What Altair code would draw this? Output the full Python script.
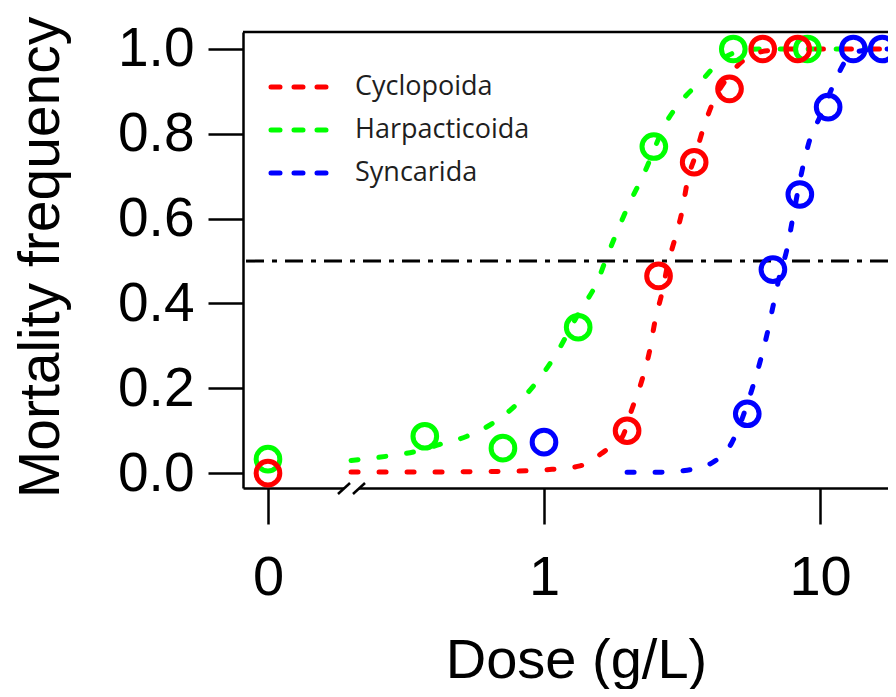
import altair as alt
import pandas as pd

# ---------------- data ----------------
series = ["Cyclopoida", "Harpacticoida", "Syncarida"]
colors = ["#ff0000", "#00ff00", "#0000ff"]
draw_order = ["Harpacticoida", "Syncarida", "Cyclopoida"]

ZERO_POS = 0.1  # dose 0 drawn at the "0" tick left of the axis break

# observed points
cyc_dose = [0, 2.0, 2.6, 3.5, 4.7, 6.2, 8.3]
cyc_mort = [0.0, 0.10, 0.465, 0.733, 0.906, 1.0, 1.0]
harp_dose = [0, 0.37, 0.71, 1.33, 2.5, 4.85, 9.0]
harp_mort = [0.033, 0.087, 0.059, 0.344, 0.77, 1.0, 1.0]
syn_dose = [1.0, 5.45, 6.75, 8.45, 10.7, 13.2, 16.8]
syn_mort = [0.073, 0.14, 0.48, 0.657, 0.863, 1.0, 1.0]

# fitted dose-response curves (dashed)
cyc_curve_dose = [0.2, 0.42, 0.69, 1.07, 1.35, 1.66, 1.92, 2.08, 2.28, 2.42, 2.52, 2.68,
                  2.81, 2.98, 3.16, 3.32, 3.52, 3.77, 4.1, 4.64, 5.35, 6.3, 8.0, 12.0, 17.6]
cyc_curve_mort = [0.003, 0.003, 0.004, 0.009, 0.017, 0.052, 0.085, 0.15, 0.226, 0.292, 0.356, 0.427,
                  0.493, 0.552, 0.616, 0.693, 0.745, 0.811, 0.875, 0.934, 0.976, 0.995, 1.0, 1.0, 1.0]
harp_curve_dose = [0.2, 0.27, 0.347, 0.42, 0.526, 0.653, 0.798, 0.928, 1.078, 1.35, 1.556, 1.706,
                   2.05, 2.28, 2.79, 3.19, 3.77, 4.34, 5.13, 6.0, 8.5, 12.0, 17.6]
harp_curve_mort = [0.03, 0.04, 0.052, 0.068, 0.087, 0.118, 0.163, 0.21, 0.269, 0.382, 0.45, 0.517,
                   0.639, 0.70, 0.83, 0.882, 0.929, 0.972, 0.995, 1.0, 1.0, 1.0, 1.0]
syn_curve_dose = [2.0, 2.63, 3.3, 4.1, 4.8, 5.67, 6.06, 6.43, 6.76, 7.16, 7.59, 7.92, 8.68, 9.2,
                  10.0, 11.3, 12.5, 14.0, 17.6]
syn_curve_mort = [0.002, 0.002, 0.007, 0.026, 0.073, 0.198, 0.262, 0.328, 0.394, 0.469, 0.528,
                  0.592, 0.724, 0.788, 0.84, 0.922, 0.976, 0.995, 1.0]

x_ticks = [0.1, 1, 10]
y_ticks = [0.0, 0.2, 0.4, 0.6, 0.8, 1.0]
ld50_level = 0.5

# ---------------- tables ----------------
pts = {"Cyclopoida": (cyc_dose, cyc_mort),
       "Harpacticoida": (harp_dose, harp_mort),
       "Syncarida": (syn_dose, syn_mort)}
crv = {"Cyclopoida": (cyc_curve_dose, cyc_curve_mort),
       "Harpacticoida": (harp_curve_dose, harp_curve_mort),
       "Syncarida": (syn_curve_dose, syn_curve_mort)}

pt_rows, cv_rows = [], []
for s in draw_order:
    for d, m in zip(*pts[s]):
        pt_rows.append({"series": s, "dose": d if d > 0 else ZERO_POS, "mort": m})
    for d, m in zip(*crv[s]):
        cv_rows.append({"series": s, "dose": d, "mort": m})
pts_df = pd.DataFrame(pt_rows)
crv_df = pd.DataFrame(cv_rows)

# ---------------- layout ----------------
W, H = 645, 456
FONT = "Liberation Sans"

xscale = alt.Scale(type="log", domain=[0.0812, 17.63], nice=False)
yscale = alt.Scale(domain=[-0.035, 1.04], nice=False, zero=False)
cscale = alt.Scale(domain=series, range=colors)

xaxis = alt.Axis(values=x_ticks,
                 labelExpr="datum.value < 0.5 ? '0' : (datum.value < 5 ? '1' : '10')",
                 title="Dose (g/L)", grid=False,
                 tickSize=36, tickWidth=2.5, tickColor="black",
                 domainColor="black", domainWidth=2.5,
                 labelFont=FONT, labelFontSize=56, labelColor="black", labelPadding=26,
                 labelFlush=False, labelOverlap=False,
                 titleFont=FONT, titleFontSize=56, titleFontWeight="normal", titleColor="black",
                 titleX=333, titleY=189, titleBaseline="alphabetic", titleAlign="center")
yaxis = alt.Axis(values=y_ticks, format=".1f", title="Mortality frequency", grid=False,
                 tickSize=35, tickWidth=2.5, tickColor="black",
                 domainColor="black", domainWidth=2.5,
                 labelFont=FONT, labelFontSize=55, labelColor="black", labelPadding=14,
                 labelFlush=False, labelOverlap=False,
                 titleFont=FONT, titleFontSize=57, titleFontWeight="normal", titleColor="black",
                 titleAngle=270, titleX=-185, titleY=225, titleBaseline="alphabetic",
                 titleAlign="center")

X = alt.X("dose:Q", scale=xscale, axis=xaxis)
Y = alt.Y("mort:Q", scale=yscale, axis=yaxis)

curves = alt.Chart(crv_df).mark_line(
    strokeWidth=5, strokeDash=[7, 21], strokeCap="round", interpolate="monotone"
).encode(x=X, y=Y, color=alt.Color("series:N", scale=cscale, legend=None), detail="series:N")

points = alt.Chart(pts_df).mark_point(
    shape="circle", filled=False, size=560, strokeWidth=5, opacity=1
).encode(x=X, y=Y, color=alt.Color("series:N", scale=cscale, legend=None))

ref = alt.Chart(pd.DataFrame({"mort": [ld50_level]})).mark_rule(
    color="black", strokeWidth=3, strokeDash=[18, 8, 5, 8]
).encode(y=Y)

one = pd.DataFrame({"a": [0]})
top_frame = alt.Chart(one).mark_rule(color="black", strokeWidth=2.5).encode(
    x=alt.value(0), x2=alt.value(W), y=alt.value(0))
gap = alt.Chart(one).mark_rule(color="white", strokeWidth=5).encode(
    x=alt.value(101), x2=alt.value(116), y=alt.value(H), y2=alt.value(H))
slash1 = alt.Chart(one).mark_rule(color="black", strokeWidth=2.5).encode(
    x=alt.value(95), x2=alt.value(107), y=alt.value(H + 6), y2=alt.value(H - 5))
slash2 = alt.Chart(one).mark_rule(color="black", strokeWidth=2.5).encode(
    x=alt.value(110), x2=alt.value(122), y=alt.value(H + 6), y2=alt.value(H - 5))

legend_layers = []
for i, (s, c) in enumerate(zip(series, colors)):
    yy = 55 + 43 * i
    legend_layers.append(
        alt.Chart(one).mark_rule(color=c, strokeWidth=5, strokeDash=[9, 14], strokeCap="round")
        .encode(x=alt.value(28), x2=alt.value(85), y=alt.value(yy)))
    legend_layers.append(
        alt.Chart(one).mark_text(text=s, align="left", baseline="middle", font="Open Sans",
                                 fontSize=27, color="#1e1e1e")
        .encode(x=alt.value(112), y=alt.value(yy)))

chart = alt.layer(curves, ref, points, top_frame, gap, slash1, slash2, *legend_layers).properties(
    width=W, height=H,
    autosize=alt.AutoSizeParams(type="none"),
    padding={"left": 235, "top": 24, "right": 0, "bottom": 201},
).configure_view(stroke=None).configure(background="white")

chart.save("out.html", embed_options={"renderer": "svg", "actions": False})
